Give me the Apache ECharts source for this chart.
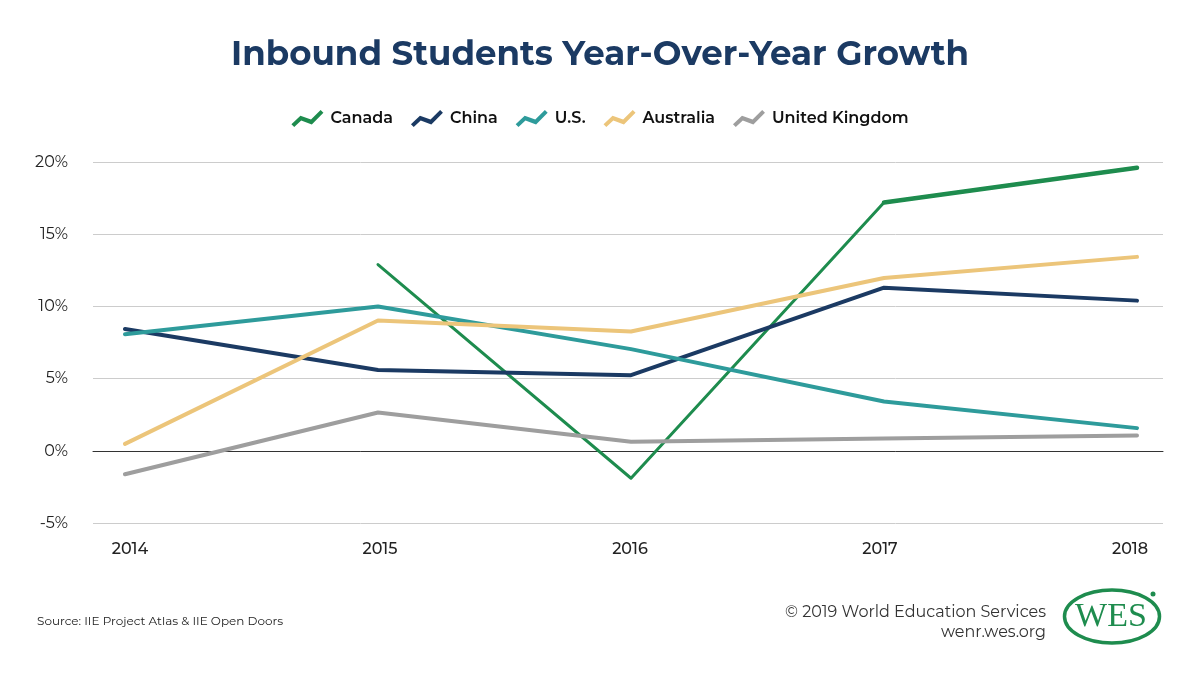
<!DOCTYPE html>
<html>
<head>
<meta charset="utf-8">
<script src="https://cdn.jsdelivr.net/npm/echarts@6/dist/echarts.min.js"></script>
<style>html,body{margin:0;padding:0;background:#fff}#c{width:1200px;height:680px}</style>
</head>
<body>
<div id="c"></div>
<script>
var years = ['2014','2015','2016','2017','2018'];
var canada = [null, 12.9, -1.9, 17.2, 19.6];
var canadaLate = [null, null, null, 17.2, 19.6];
var china = [8.44, 5.6, 5.24, 11.3, 10.4];
var us = [8.07, 9.99, 7.04, 3.41, 1.57];
var australia = [0.48, 9.02, 8.26, 11.97, 13.43];
var uk = [-1.62, 2.65, 0.62, 0.85, 1.06];

var zig = 'path://M0,14.2 L9,5.8 L19.6,9.6 L29.2,0 L32,2.8 L20.4,14.4 L9.8,10.6 L2.8,17 Z';
var F = 'Montserrat, "Open Sans", "Noto Sans", sans-serif';

var chart = echarts.init(document.getElementById('c'), null, {renderer: 'canvas'});
function line(name, data, color, width) {
  return {
    name: name, type: 'line', data: data, xAxisIndex: 1, yAxisIndex: 1,
    showSymbol: false, symbol: 'none', connectNulls: false,
    lineStyle: {color: color, width: width, cap: 'round', join: 'round'},
    itemStyle: {color: color}, z: 3, silent: true
  };
}
chart.setOption({
  animation: false,
  title: {
    text: 'Inbound Students Year-Over-Year Growth', left: 'center', top: 33,
    textStyle: {fontFamily: F, fontSize: 34, fontWeight: 'bold', color: '#1b3a63'}
  },
  legend: {
    top: 105, left: 'center', itemWidth: 32, itemHeight: 17, itemGap: 18,
    data: [
      {name: 'Canada', icon: zig, itemStyle: {color: '#1e8c4e'}},
      {name: 'China', icon: zig, itemStyle: {color: '#1b3a63'}},
      {name: 'U.S.', icon: zig, itemStyle: {color: '#2e9b9b'}},
      {name: 'Australia', icon: zig, itemStyle: {color: '#ecc57a'}},
      {name: 'United Kingdom', icon: zig, itemStyle: {color: '#9e9e9e'}}
    ],
    textStyle: {fontFamily: F, fontSize: 16, fontWeight: 600, color: '#111', padding: [0, 0, 0, 2]}
  },
  grid: [
    {left: 93, right: 37, top: 162, bottom: 157},
    {left: 125, right: 63, top: 162, bottom: 157},
    {left: 130, right: 70, top: 162, bottom: 157}
  ],
  xAxis: [
    {type: 'category', gridIndex: 0, data: years, boundaryGap: false,
     axisLine: {show: true, onZero: true, lineStyle: {color: '#333', width: 1}},
     axisTick: {show: false}, axisLabel: {show: false}, splitLine: {show: false}},
    {type: 'category', gridIndex: 1, data: years, boundaryGap: false,
     axisLine: {show: false}, axisTick: {show: false}, splitLine: {show: false},
     axisLabel: {show: false}},
    {type: 'category', gridIndex: 2, data: years, boundaryGap: false,
     axisLine: {show: false}, axisTick: {show: false}, splitLine: {show: false},
     axisLabel: {margin: 18, fontFamily: F, fontSize: 16, color: '#222', fontWeight: 500}}
  ],
  yAxis: [
    {type: 'value', gridIndex: 0, min: -5, max: 20, interval: 5,
     axisLine: {show: false}, axisTick: {show: false},
     splitLine: {show: true, lineStyle: {color: '#cccccc', width: 1}},
     axisLabel: {margin: 25, fontFamily: F, fontSize: 16, color: '#222', formatter: '{value}%'}},
    {type: 'value', gridIndex: 1, min: -5, max: 20, interval: 5, show: false,
     splitLine: {show: false}},
    {type: 'value', gridIndex: 2, min: -5, max: 20, interval: 5, show: false,
     splitLine: {show: false}}
  ],
  series: [
    line('Canada', canada, '#1e8c4e', 3),
    line('CanadaLate', canadaLate, '#1e8c4e', 4.5),
    line('China', china, '#1b3a63', 4),
    line('U.S.', us, '#2e9b9b', 4),
    line('Australia', australia, '#ecc57a', 4),
    line('United Kingdom', uk, '#9e9e9e', 4)
  ],
  graphic: [
    {type: 'text', left: 37, top: 615, style: {text: 'Source: IIE Project Atlas & IIE Open Doors', fontFamily: F, fontSize: 12, fill: '#222'}},
    {type: 'text', right: 154, top: 604, style: {text: '\u00A9 2019 World Education Services', fontFamily: F, fontSize: 16, fill: '#333', align: 'right'}},
    {type: 'text', right: 154, top: 624, style: {text: 'wenr.wes.org', fontFamily: F, fontSize: 16, fill: '#333', align: 'right'}},
    {type: 'ellipse', shape: {cx: 1112, cy: 616.5, rx: 47.5, ry: 26.5}, style: {fill: 'none', stroke: '#1e8c4e', lineWidth: 3.5}},
    {type: 'text', x: 1111, y: 617, style: {text: 'WES', fontFamily: '"Liberation Serif", "DejaVu Serif", serif', fontSize: 34, fill: '#1e8c4e', align: 'center', verticalAlign: 'middle'}},
    {type: 'circle', shape: {cx: 1153, cy: 594, r: 2.5}, style: {fill: '#1e8c4e'}}
  ]
});
</script>
</body>
</html>
